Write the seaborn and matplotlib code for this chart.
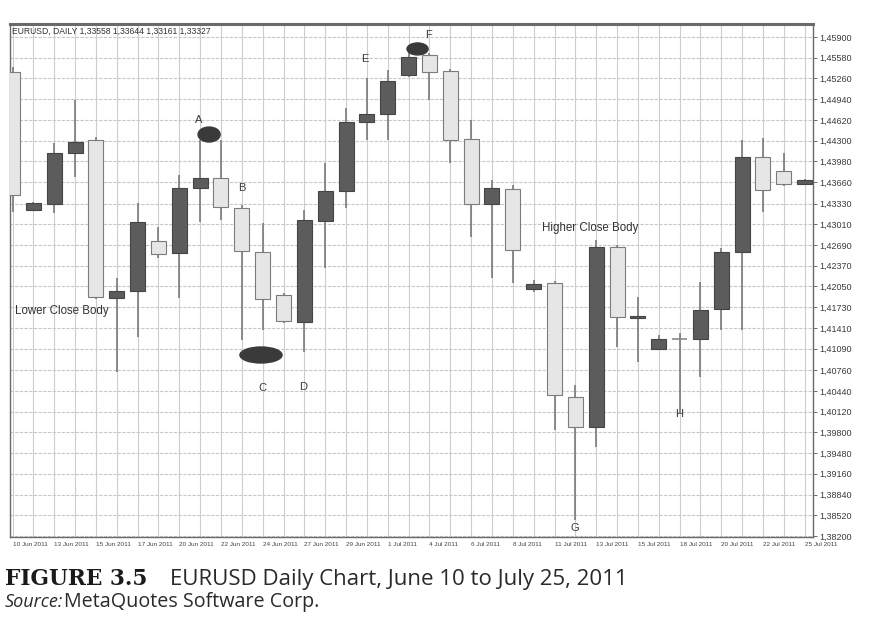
import numpy as np
import pandas as pd
import matplotlib
matplotlib.use("Agg")
import matplotlib.pyplot as plt
from matplotlib.patches import Ellipse
import seaborn as sns

# daily EURUSD bars (MetaQuotes also prints the short sunday sessions)
dates = ["10 Jun 2011", "12 Jun 2011", "13 Jun 2011", "14 Jun 2011", "15 Jun 2011",
         "16 Jun 2011", "17 Jun 2011", "19 Jun 2011", "20 Jun 2011", "21 Jun 2011",
         "22 Jun 2011", "23 Jun 2011", "24 Jun 2011", "26 Jun 2011", "27 Jun 2011",
         "28 Jun 2011", "29 Jun 2011", "30 Jun 2011", "1 Jul 2011", "3 Jul 2011",
         "4 Jul 2011", "5 Jul 2011", "6 Jul 2011", "7 Jul 2011", "8 Jul 2011",
         "10 Jul 2011", "11 Jul 2011", "12 Jul 2011", "13 Jul 2011", "14 Jul 2011",
         "15 Jul 2011", "17 Jul 2011", "18 Jul 2011", "19 Jul 2011", "20 Jul 2011",
         "21 Jul 2011", "22 Jul 2011", "24 Jul 2011", "25 Jul 2011"]
opens = [1.45360, 1.43230, 1.43323, 1.44110, 1.44311, 1.41872, 1.41981, 1.42752,
         1.42567, 1.43570, 1.43724, 1.43261, 1.42582, 1.41919, 1.41502, 1.43061,
         1.43524, 1.44588, 1.44712, 1.45314, 1.45622, 1.45375, 1.44326, 1.43323,
         1.43554, 1.42011, 1.42104, 1.40345, 1.39882, 1.42660, 1.41564, 1.41086,
         1.41240, 1.41240, 1.41703, 1.42582, 1.44048, 1.43832, 1.43632]
highs = [1.45437, 1.43354, 1.44264, 1.44928, 1.44357, 1.42181, 1.43338, 1.42968,
         1.43771, 1.44311, 1.44311, 1.43308, 1.43030, 1.41950, 1.43230, 1.43956,
         1.44804, 1.45267, 1.45391, 1.45699, 1.45653, 1.45406, 1.44619, 1.43693,
         1.43616, 1.42150, 1.42135, 1.40530, 1.42768, 1.42690, 1.41888, 1.41302,
         1.41332, 1.42119, 1.42644, 1.44311, 1.44341, 1.44110, 1.43709]
lows = [1.43200, 1.43215, 1.43184, 1.43740, 1.41857, 1.40731, 1.41271, 1.42490,
        1.41872, 1.43045, 1.43076, 1.41224, 1.41379, 1.41487, 1.41039, 1.42335,
        1.43261, 1.44311, 1.44311, 1.45283, 1.44928, 1.43956, 1.42814, 1.42181,
        1.42104, 1.41965, 1.39836, 1.38447, 1.39573, 1.41116, 1.40885, 1.41070,
        1.40098, 1.40653, 1.41379, 1.41379, 1.43200, 1.43601, 1.43616]
closes = [1.43462, 1.43338, 1.44110, 1.44280, 1.41888, 1.41981, 1.43045, 1.42552,
          1.43570, 1.43724, 1.43277, 1.42598, 1.41857, 1.41518, 1.43076, 1.43524,
          1.44588, 1.44712, 1.45221, 1.45591, 1.45360, 1.44311, 1.43323, 1.43570,
          1.42613, 1.42089, 1.40376, 1.39882, 1.42660, 1.41579, 1.41595, 1.41240,
          1.41240, 1.41687, 1.42582, 1.44048, 1.43539, 1.43632, 1.43693]

price_labels = ["1,45900", "1,45580", "1,45260", "1,44940", "1,44620", "1,44300",
                "1,43980", "1,43660", "1,43330", "1,43010", "1,42690", "1,42370",
                "1,42050", "1,41730", "1,41410", "1,41090", "1,40760", "1,40440",
                "1,40120", "1,39800", "1,39480", "1,39160", "1,38840", "1,38520",
                "1,38200"]

# point labels (bar index, price) and the marked ellipses
letters = ["A", "B", "C", "D", "E", "F", "G", "H"]
letter_bar = [8.95, 11.01, 11.97, 13.94, 16.91, 19.94, 26.99, 31.98]
letter_price = [1.44619, 1.43570, 1.40484, 1.40499, 1.45561, 1.45931, 1.38323, 1.40090]
ellipse_bar = [9.43, 11.92, 19.43]
ellipse_price = [1.44395, 1.40993, 1.45715]
ellipse_w = [1.06, 2.02, 1.01]
ellipse_h = [0.00231, 0.00247, 0.00185]

df = pd.DataFrame({"date": dates, "open": opens, "high": highs,
                   "low": lows, "close": closes})
df["bar"] = np.arange(len(df))
df["up"] = df["close"] > df["open"]
df["flat"] = df["close"] == df["open"]

sns.set_theme(style="white")
plt.rcParams["font.family"] = ["Liberation Sans", "DejaVu Sans"]

fig = plt.figure(figsize=(8.91, 6.30), dpi=100)
ax = fig.add_axes([10 / 891, 1 - 537 / 630, 803 / 891, 513 / 630])

# wicks
ax.vlines(df["bar"], df["low"], df["high"], color="#7a7a7a", lw=1.2, zorder=3)

# bodies
body_w = 0.72
dark = df[df["up"]]
light = df[~df["up"] & ~df["flat"]]
ax.bar(dark["bar"], dark["close"] - dark["open"], bottom=dark["open"], width=body_w,
       color="#5c5c5c", edgecolor="#454545", lw=0.8, zorder=4)
ax.bar(light["bar"], light["open"] - light["close"], bottom=light["close"], width=body_w,
       color="#e6e6e6", edgecolor="#7c7c7c", lw=0.8, zorder=4)
flat = df[df["flat"]]
ax.hlines(flat["open"], flat["bar"] - body_w / 2, flat["bar"] + body_w / 2,
          color="#8a8a8a", lw=1.2, zorder=4)

for bx, py, w, h in zip(ellipse_bar, ellipse_price, ellipse_w, ellipse_h):
    ax.add_patch(Ellipse((bx, py), w, h, facecolor="#3a3a3a", edgecolor="#3a3a3a", zorder=5))

for t, bx, py in zip(letters, letter_bar, letter_price):
    ax.text(bx, py, t, fontsize=8, color="#3a3a3a", ha="center", va="center", zorder=6)

ax.text(0.12, 1.41672, "Lower Close Body", fontsize=8.3, color="#333333",
        ha="left", va="center", zorder=6)
ax.text(25.41, 1.42953, "Higher Close Body", fontsize=8.3, color="#333333",
        ha="left", va="center", zorder=6)
ax.text(0.003, 0.986, "EURUSD, DAILY 1,33558 1,33644 1,33161 1,33327",
        transform=ax.transAxes, fontsize=6.2, color="#333333", ha="left", va="center")

# axes
price_ticks = [float(s.replace(",", ".")) for s in price_labels]
ax.set_ylim(1.38185, 1.46100)
ax.set_xlim(-0.12, 38.4)
ax.yaxis.tick_right()
ax.set_yticks(price_ticks)
ax.set_yticklabels(price_labels)
ax.tick_params(axis="y", labelsize=6.5, labelcolor="#3a3a3a", length=3,
               width=0.6, color="#555555", pad=1.5, right=True)
ax.set_xticks(df["bar"][::2])
ax.set_xticklabels(df["date"][::2], ha="left")
ax.set_xticks(df["bar"], minor=True)
ax.tick_params(axis="x", which="both", labelsize=4.6, labelcolor="#444444",
               length=0, pad=3.5, bottom=True)

ax.yaxis.grid(True, color="#c8c8c8", lw=0.8, ls=(0, (3, 1.2)), zorder=0)
ax.xaxis.grid(True, which="both", color="#cdcdcd", lw=0.8, zorder=0)
for sp in ax.spines.values():
    sp.set_color("#6a6a6a")
    sp.set_linewidth(1.0)
ax.spines["top"].set_linewidth(2.2)

# caption below the chart
fig.text(5 / 891, 1 - 585 / 630, "FIGURE 3.5", family="DejaVu Serif",
         fontweight="bold", fontsize=15.6, color="#1a1a1a", ha="left", va="baseline")
fig.text(170 / 891, 1 - 585 / 630, "EURUSD Daily Chart, June 10 to July 25, 2011",
         family="Open Sans", fontsize=16, color="#2a2a2a", ha="left", va="baseline")
fig.text(5 / 891, 1 - 607 / 630, "Source:", family="Open Sans", style="italic",
         fontsize=13, color="#2a2a2a", ha="left", va="baseline")
fig.text(64 / 891, 1 - 607 / 630, "MetaQuotes Software Corp.", family="Open Sans",
         fontsize=14.2, color="#2a2a2a", ha="left", va="baseline")

fig.savefig("out.png", dpi=100, facecolor="white")
